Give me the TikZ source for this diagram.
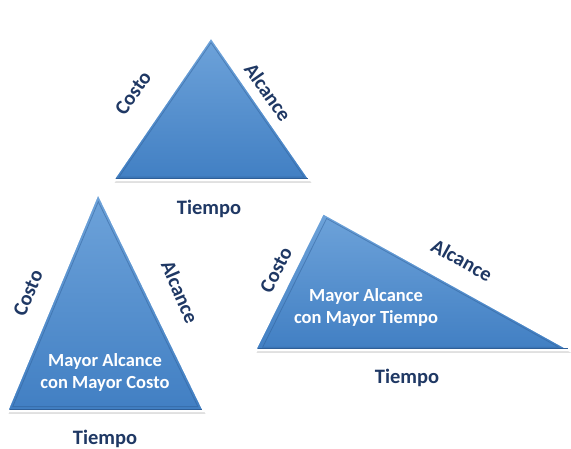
\documentclass[tikz,border=0pt]{standalone}
\usepackage{fontspec}
\setmainfont{Carlito}
\usetikzlibrary{calc}
\definecolor{navy}{HTML}{1F3864}
\definecolor{blueTop}{HTML}{6EA3DA}
\definecolor{blueBot}{HTML}{417FC3}
\definecolor{bevel}{HTML}{2F5F98}
\tikzset{
  lbl/.style={font=\bfseries\fontsize{20.5}{24}\selectfont, text=navy, inner sep=0pt},
  wlbl/.style={font=\bfseries\fontsize{18.5}{22}\selectfont, text=white, inner sep=0pt, align=center},
  tshadow/.style={fill=black!35, opacity=0.35},
  tfill/.style={top color=blueTop, bottom color=blueBot, draw=white, line width=2.2pt, line join=miter},
  tbevel/.style={draw=bevel, line width=0.8pt, opacity=0.5}
}
\begin{document}
\begin{tikzpicture}[x=1pt,y=-1pt]
\useasboundingbox (0,0) rectangle (571,449);
% vertices
\coordinate (a1) at (211,37); \coordinate (b1) at (113,180); \coordinate (c1) at (310,180);
\coordinate (a2) at (98,193); \coordinate (b2) at (7,411); \coordinate (c2) at (204,411);
\coordinate (a3) at (323,213); \coordinate (b3) at (255,350); \coordinate (c3) at (570,350);
% shadows
\foreach \p/\q/\r in {a1/b1/c1, a2/b2/c2, a3/b3/c3}{
  \fill[tshadow] ($(\p)+(1.5,2.5)$) -- ($(\q)+(1.5,3)$) -- ($(\r)+(1.5,3)$) -- cycle;
}
% triangles
\foreach \p/\q/\r in {a1/b1/c1, a2/b2/c2, a3/b3/c3}{
  \path[tfill] (\p) -- (\q) -- (\r) -- cycle;
  \coordinate (g) at ($1/3*(\p)+1/3*(\q)+1/3*(\r)$);
  \draw[tbevel] ($(g)!0.94!(\p)$) -- ($(g)!0.94!(\q)$) -- ($(g)!0.94!(\r)$) -- cycle;
  \draw[bevel, line width=1.2pt] ($(\q)+(2.5,-1.2)$) -- ($(\r)+(-2.5,-1.2)$);
}
% labels top triangle
\node[lbl, rotate=55] (costo1) at (133,93) {Costo};
\node[lbl, rotate=-55] (alc1) at (268,92) {Alcance};
\node[lbl] (tiem1) at (209,209) {Tiempo};
% labels bottom-left triangle
\node[lbl, rotate=67] (costo2) at (28,293) {Costo};
\node[lbl, rotate=-67] (alc2) at (180,292) {Alcance};
\node[lbl] (tiem2) at (105,439) {Tiempo};
\node[wlbl] (txt2) at (105,372) {Mayor Alcance\\con Mayor Costo};
% labels right triangle
\node[lbl, rotate=63] (costo3) at (276,270) {Costo};
\node[lbl, rotate=-29] (alc3) at (462,260) {Alcance};
\node[lbl] (tiem3) at (407,378) {Tiempo};
\node[wlbl] (txt3) at (366,307) {Mayor Alcance\\con Mayor Tiempo};
\end{tikzpicture}
\end{document}
